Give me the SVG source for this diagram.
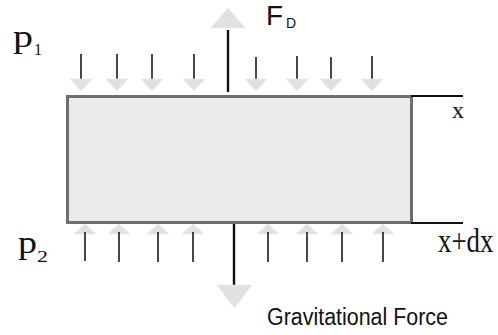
<svg xmlns="http://www.w3.org/2000/svg" width="498" height="335" viewBox="0 0 498 335">
<style>
.shaft{stroke:#1a1a1a;stroke-width:1.6;fill:none}
.big{stroke:#111;stroke-width:2.4;fill:none}
.head{fill:#e1e1e1;stroke:#e8e8e8;stroke-width:0.6}
.serif{font-family:"Liberation Serif","Times New Roman",serif;fill:#111}
.sans{font-family:"Liberation Sans",Arial,sans-serif;fill:#111}
.ref{stroke:#111;stroke-width:2;fill:none}
</style>
<defs>
<polygon id="down" class="head" points="-11,0 11,0 0,12"/>
<polygon id="up" class="head" points="-11,10 11,10 0,0"/>
</defs>
<rect width="498" height="335" fill="#fff"/>
<g id="element">
<rect x="67.5" y="96.5" width="344" height="126" fill="#ebebeb" stroke="#6e6e6e" stroke-width="3"/>
</g>
<g id="connectors">
<g id="top-pressure">
<line class="shaft" x1="81" y1="54" x2="81" y2="82"/><use href="#down" x="81" y="79"/>
<line class="shaft" x1="117" y1="54" x2="117" y2="82"/><use href="#down" x="117" y="79"/>
<line class="shaft" x1="152" y1="54" x2="152" y2="82"/><use href="#down" x="152" y="79"/>
<line class="shaft" x1="194" y1="54" x2="194" y2="82"/><use href="#down" x="194" y="79"/>
<line class="shaft" x1="256" y1="57" x2="256" y2="82"/><use href="#down" x="256" y="79"/>
<line class="shaft" x1="297" y1="56" x2="297" y2="82"/><use href="#down" x="297" y="79"/>
<line class="shaft" x1="331" y1="57" x2="331" y2="82"/><use href="#down" x="331" y="79"/>
<line class="shaft" x1="372" y1="56" x2="372" y2="82"/><use href="#down" x="372" y="79"/>
</g>
<g id="bottom-pressure">
<use href="#up" x="85" y="224"/><line class="shaft" x1="85" y1="232" x2="85" y2="261"/>
<use href="#up" x="119" y="224"/><line class="shaft" x1="119" y1="232" x2="119" y2="262"/>
<use href="#up" x="158" y="224"/><line class="shaft" x1="158" y1="232" x2="158" y2="262"/>
<use href="#up" x="193" y="224"/><line class="shaft" x1="193" y1="232" x2="193" y2="262"/>
<use href="#up" x="268" y="224"/><line class="shaft" x1="268" y1="232" x2="268" y2="262"/>
<use href="#up" x="307" y="224"/><line class="shaft" x1="307" y1="232" x2="307" y2="262"/>
<use href="#up" x="342" y="224"/><line class="shaft" x1="342" y1="232" x2="342" y2="262"/>
<use href="#up" x="383" y="224"/><line class="shaft" x1="383" y1="232" x2="383" y2="262"/>
</g>
<g id="drag-force">
<polygon class="head" points="211,28 245,28 228,8"/>
<line class="big" x1="228" y1="30" x2="228" y2="92"/>
</g>
<g id="gravity-force">
<line class="big" x1="234" y1="224" x2="234" y2="285"/>
<polygon class="head" points="217,285 252,285 234.5,308"/>
</g>
<line class="ref" x1="411" y1="96" x2="463" y2="96"/>
<line class="ref" x1="411" y1="223" x2="463" y2="223"/>
</g>
<g id="labels">
<text class="serif" x="13" y="47" font-size="32" textLength="20" lengthAdjust="spacingAndGlyphs">p</text>
<text class="serif" x="34" y="55" font-size="16">1</text>
<text class="serif" x="18" y="253" font-size="32" textLength="19" lengthAdjust="spacingAndGlyphs">p</text>
<text class="serif" x="37" y="262" font-size="17" textLength="11" lengthAdjust="spacingAndGlyphs">2</text>
<text class="sans" x="266" y="25" font-size="28">F</text>
<text class="sans" x="286" y="28" font-size="14">D</text>
<text class="serif" x="452" y="118" font-size="24">x</text>
<text class="serif" transform="translate(438 252) scale(0.79 1)" x="0" y="0" font-size="34">x+dx</text>
<text class="sans" x="267" y="325" font-size="23" textLength="181" lengthAdjust="spacingAndGlyphs">Gravitational Force</text>
</g>
</svg>
